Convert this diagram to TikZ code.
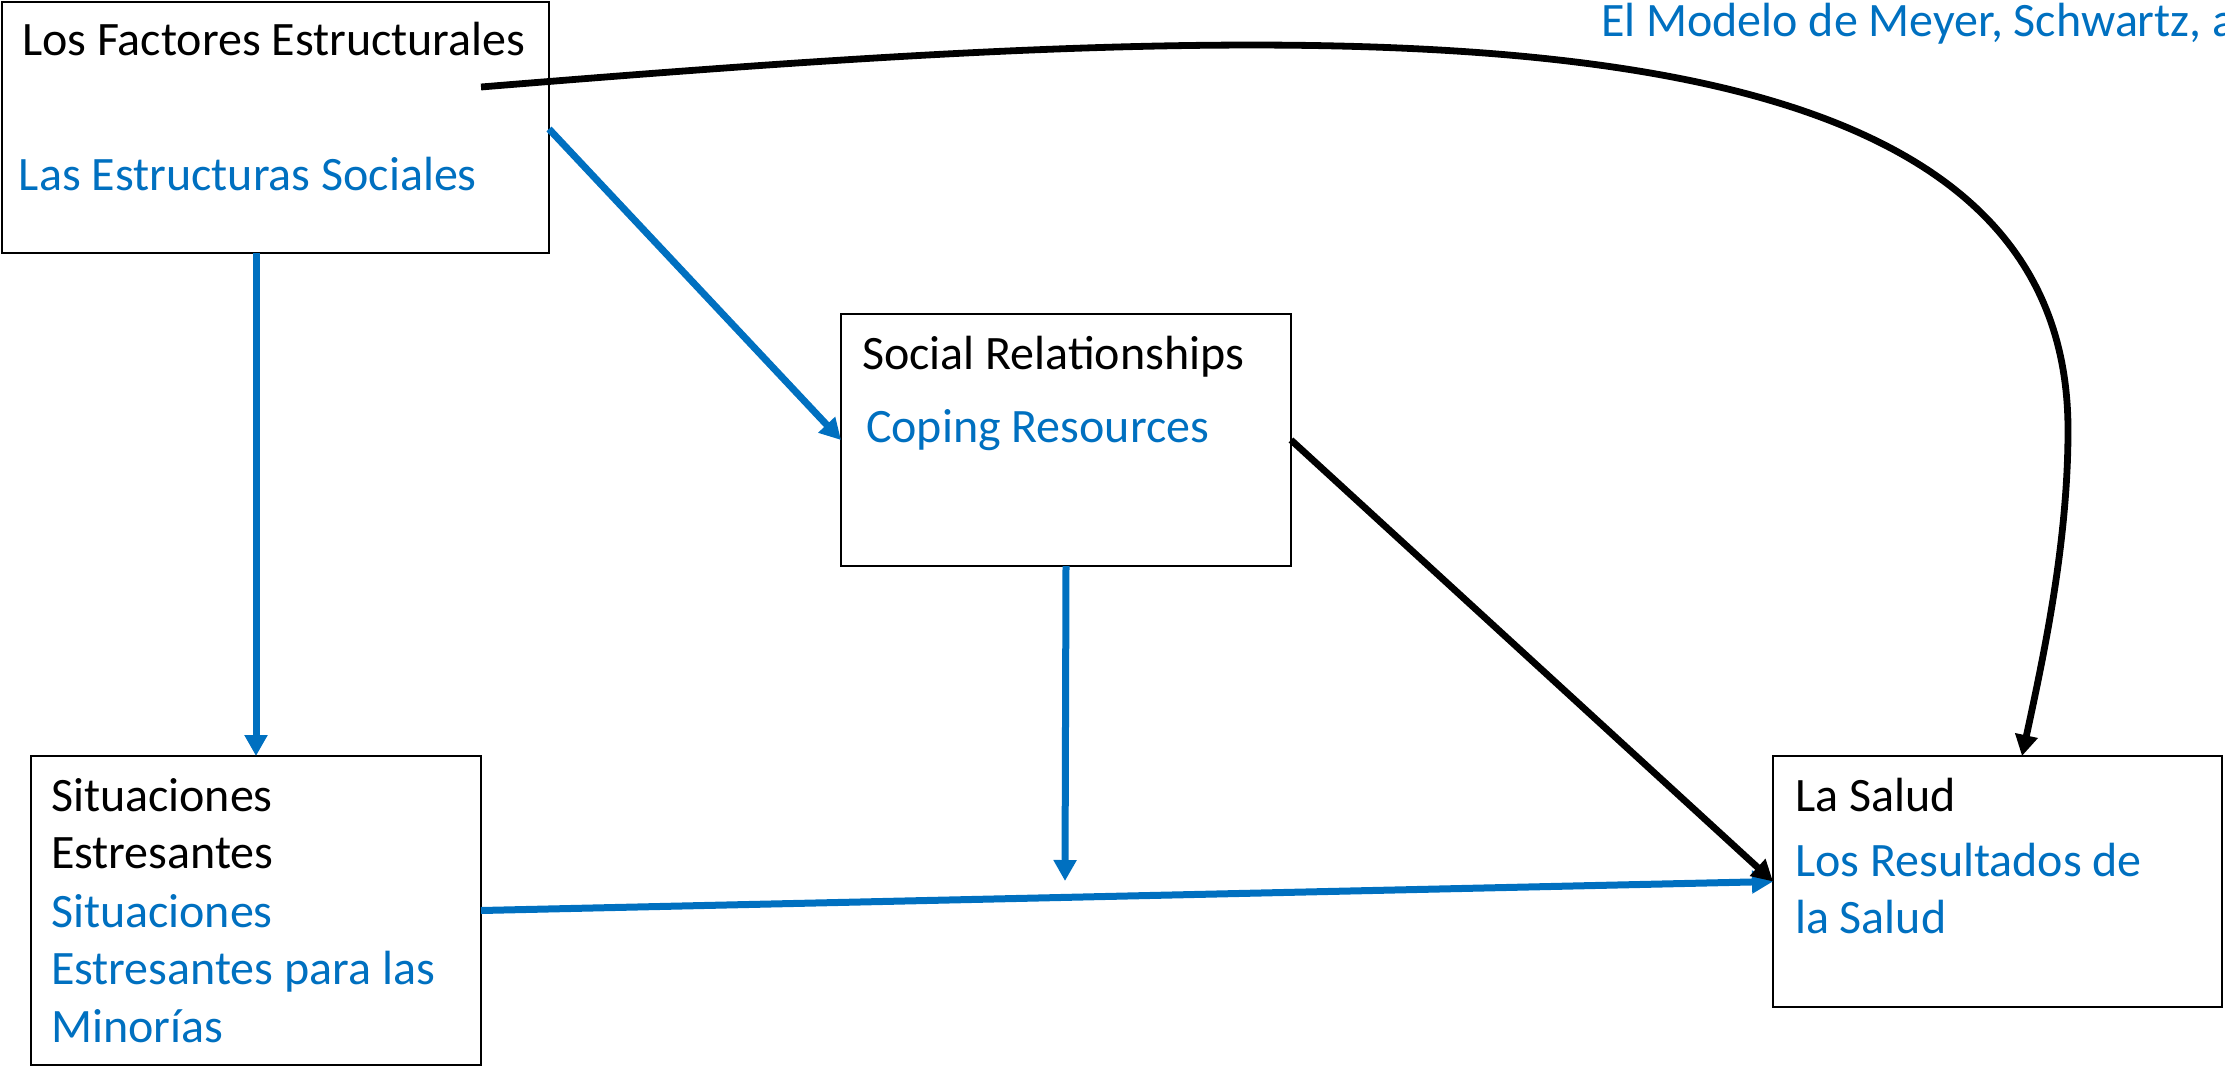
\documentclass[tikz,border=0pt]{standalone}
\usepackage{fontspec}
\setmainfont{Carlito}
\usetikzlibrary{arrows.meta}
\definecolor{obl}{HTML}{0070C0}
\begin{document}
\begin{tikzpicture}[x=1pt,y=-1pt,
  box/.style={draw=black, line width=2.2pt, rectangle, inner sep=0pt, outer sep=0pt, fill=white},
  lbl/.style={anchor=base west, inner sep=0pt, outer sep=0pt, font=\fontsize{48}{58}\selectfont},
  blbl/.style={lbl, text=obl},
  bluearrow/.style={draw=obl, line width=7pt, -{Triangle[length=21pt,width=22pt]}},
  blackarrow/.style={draw=black, line width=6.8pt, -{Triangle[length=21pt,width=22pt]}}]
\useasboundingbox (0,0) rectangle (2225,1066);
\clip (0,0) rectangle (2225,1066);
% boxes
\node[box, minimum width=547pt, minimum height=251pt] (A) at (275.5,127.5) {};
\node[box, minimum width=450pt, minimum height=252pt] (B) at (1066,440) {};
\node[box, minimum width=450pt, minimum height=309pt] (C) at (256,910.5) {};
\node[box, minimum width=449pt, minimum height=251pt] (D) at (1997.5,881.5) {};
% texts
\node[blbl] (title) at (1601,36) {El Modelo de Meyer, Schwartz, a};
\node[lbl] (a1) at (22,55) {Los Factores Estructurales};
\node[blbl] (a2) at (19,190) {Las Estructuras Sociales};
\node[lbl] (b1) at (862,369) {Social Relationships};
\node[blbl] (b2) at (866,442) {Coping Resources};
\node[lbl] (c1) at (51,811) {Situaciones};
\node[lbl] (c2) at (51,868) {Estresantes};
\node[blbl] (c3) at (51,927) {Situaciones};
\node[blbl] (c4) at (51,984) {Estresantes para las};
\node[blbl] (c5) at (51,1042) {Minorías};
\node[lbl] (d1) at (1795,811) {La Salud};
\node[blbl] (d2) at (1795,876) {Los Resultados de};
\node[blbl] (d3) at (1795,933) {la Salud};
% connector coordinates
\coordinate (s) at (481,87);
\coordinate (k) at (2068,430);
\coordinate (m) at (1065,881);
% connectors
\draw[bluearrow] (A.east |- 0,129) -- (B.west);
\draw[bluearrow] (A.south -| C.north) -- (C.north);
\draw[bluearrow] (C.east) -- (D.west);
\draw[blackarrow] (B.east) -- (D.west);
\draw[bluearrow] (B.south) -- (m);
\draw[blackarrow] (s) .. controls (1300,20) and (2068,-25) .. (k)
  .. controls (2068,540) and (2045,650) .. ([xshift=24.5pt]D.north);
\end{tikzpicture}
\end{document}
